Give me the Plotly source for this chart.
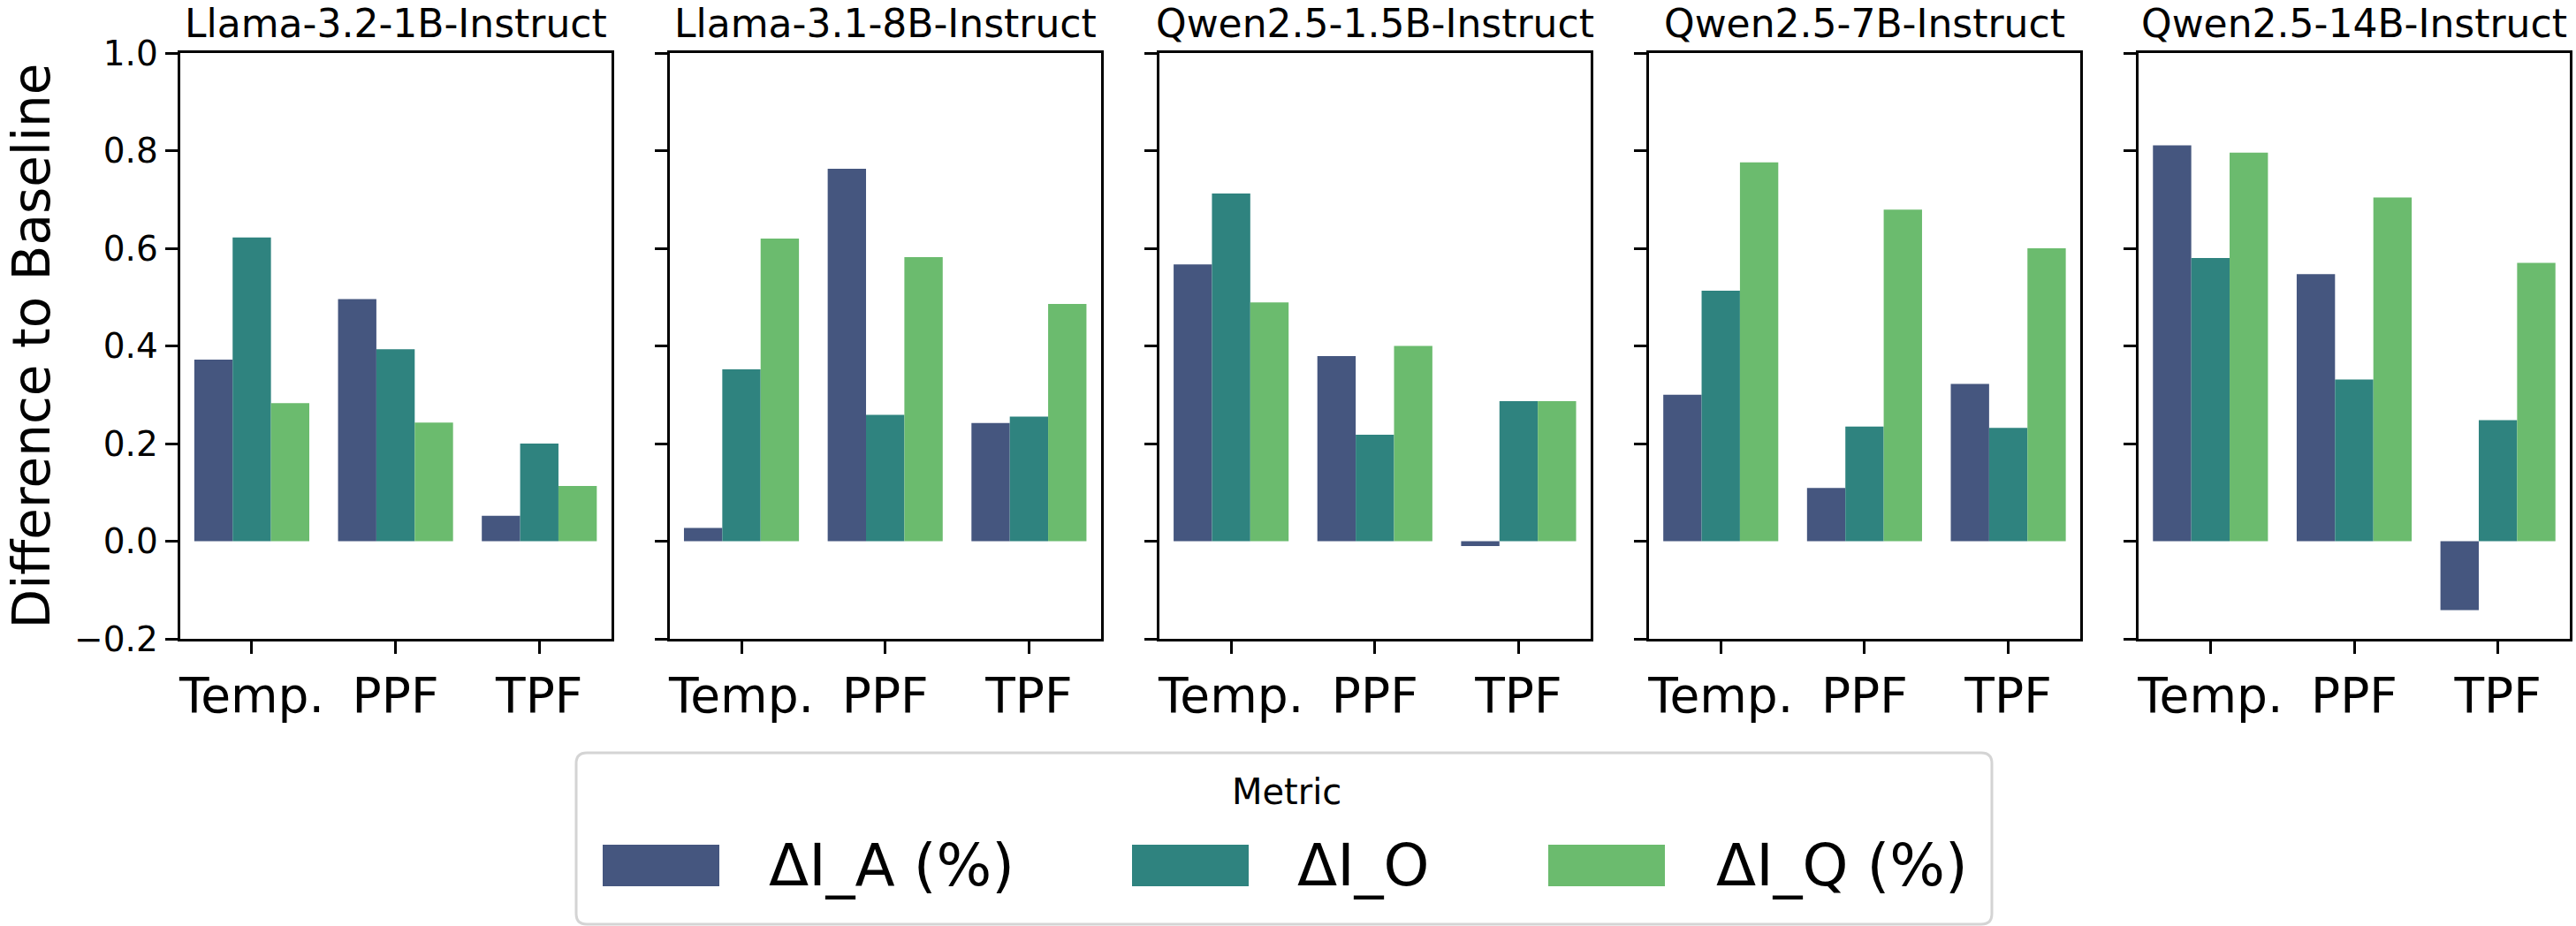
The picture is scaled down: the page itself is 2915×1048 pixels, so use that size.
import plotly.graph_objects as go

# ---------------- data ----------------
models = ["Llama-3.2-1B-Instruct", "Llama-3.1-8B-Instruct", "Qwen2.5-1.5B-Instruct",
          "Qwen2.5-7B-Instruct", "Qwen2.5-14B-Instruct"]
categories = ["Temp.", "PPF", "TPF"]
metric_names = ["ΔI_A (%)", "ΔI_O", "ΔI_Q (%)"]

# one row per model, values for [Temp., PPF, TPF]
delta_ia = [
    [0.372, 0.496, 0.052],
    [0.027, 0.763, 0.242],
    [0.567, 0.379, -0.010],
    [0.300, 0.109, 0.322],
    [0.811, 0.547, -0.141],
]
delta_io = [
    [0.622, 0.393, 0.200],
    [0.352, 0.259, 0.255],
    [0.712, 0.218, 0.287],
    [0.513, 0.235, 0.232],
    [0.580, 0.331, 0.248],
]
delta_iq = [
    [0.283, 0.243, 0.113],
    [0.620, 0.582, 0.486],
    [0.489, 0.400, 0.287],
    [0.776, 0.679, 0.600],
    [0.796, 0.704, 0.570],
]
y_ticks = [-0.2, 0.0, 0.2, 0.4, 0.6, 0.8, 1.0]
y_tick_text = ["\u22120.2", "0.0", "0.2", "0.4", "0.6", "0.8", "1.0"]

colors = ["#45567f", "#2f837f", "#6bbb6e"]
FONT = "DejaVu Sans"

# ---------------- layout geometry (pixels) ----------------
W, H = 2915, 1048
panel_left = [203.6, 757.7, 1311.8, 1865.9, 2420.0]
panel_w = 488.0
top_px, bottom_px = 60.0, 723.0


def px(x):
    return x / W


def py(y):
    return 1 - y / H


fig = go.Figure()
series = [delta_ia, delta_io, delta_iq]

for i, model in enumerate(models):
    ax = "" if i == 0 else str(i + 1)
    for k, name in enumerate(metric_names):
        fig.add_trace(go.Bar(
            x=categories, y=series[k][i], name=name,
            marker=dict(color=colors[k], line=dict(width=0)),
            xaxis="x" + ax, yaxis="y" + ax, showlegend=False,
            offsetgroup=str(k),
        ))
    fig.layout["xaxis" + ax] = dict(
        domain=[px(panel_left[i]), px(panel_left[i] + panel_w)],
        anchor="y" + ax, type="category", range=[-0.5, 2.5],
        showline=True, mirror=True, linecolor="black", linewidth=3,
        ticks="outside", ticklen=14, tickwidth=3, tickcolor="black",
        tickfont=dict(family=FONT, size=55, color="black"),
        showgrid=False, zeroline=False, fixedrange=True, automargin=False,
    )
    fig.layout["yaxis" + ax] = dict(
        domain=[py(bottom_px), py(top_px)], anchor="x" + ax,
        range=[-0.2, 1.0], tickvals=y_ticks, ticktext=y_tick_text,
        showticklabels=(i == 0),
        showline=True, mirror=True, linecolor="black", linewidth=3,
        ticks="outside", ticklen=14, tickwidth=3, tickcolor="black",
        tickfont=dict(family=FONT, size=39, color="black"),
        showgrid=False, zeroline=False, fixedrange=True, automargin=False,
    )
    # panel title
    fig.add_annotation(
        text=model, xref="paper", yref="paper",
        x=px(panel_left[i] + panel_w / 2), y=1.0,
        xanchor="center", yanchor="top", showarrow=False, borderpad=0,
        font=dict(family=FONT, size=44, color="black"),
    )

# y-axis label
fig.add_annotation(
    text="Difference to Baseline", xref="paper", yref="paper",
    x=0.0, y=py((top_px + bottom_px) / 2), xanchor="left", yanchor="middle",
    textangle=-90, showarrow=False, borderpad=0,
    font=dict(family=FONT, size=58, color="black"),
)

# ---------------- legend (drawn) ----------------
bx0, bx1, by0, by1, r = 652, 2254, 852, 1046, 12
rx, ry = r / W, r / H
X0, X1, Y0, Y1 = px(bx0), px(bx1), py(by1), py(by0)
path = (f"M {X0+rx},{Y0} L {X1-rx},{Y0} Q {X1},{Y0} {X1},{Y0+ry} "
        f"L {X1},{Y1-ry} Q {X1},{Y1} {X1-rx},{Y1} L {X0+rx},{Y1} "
        f"Q {X0},{Y1} {X0},{Y1-ry} L {X0},{Y0+ry} Q {X0},{Y0} {X0+rx},{Y0} Z")
shapes = [dict(type="path", path=path, xref="paper", yref="paper",
               line=dict(color="#d4d4d4", width=3), fillcolor="white", layer="above")]

fig.add_annotation(
    text="Metric", xref="paper", yref="paper", x=px(1456), y=py(896),
    xanchor="center", yanchor="middle", showarrow=False,
    font=dict(family=FONT, size=40, color="black"),
)
patch_x = [682, 1281, 1752]
patch_w = 132
text_x = [868, 1466, 1940]
p_top, p_bot = 956, 1003
for k, name in enumerate(metric_names):
    shapes.append(dict(type="rect", xref="paper", yref="paper",
                       x0=px(patch_x[k]), x1=px(patch_x[k] + patch_w),
                       y0=py(p_bot), y1=py(p_top),
                       fillcolor=colors[k], line=dict(width=0), layer="above"))
    fig.add_annotation(
        text=name, xref="paper", yref="paper", x=px(text_x[k]), y=py((p_top + p_bot) / 2),
        xanchor="left", yanchor="middle", showarrow=False,
        font=dict(family=FONT, size=66, color="black"),
    )

fig.update_layout(
    width=W, height=H, margin=dict(l=0, r=0, t=0, b=0, autoexpand=False),
    paper_bgcolor="white", plot_bgcolor="white",
    barmode="group", bargap=0.2, bargroupgap=0.0,
    shapes=shapes, showlegend=False,
    font=dict(family=FONT, color="black"),
)

fig.write_html("out.html")
